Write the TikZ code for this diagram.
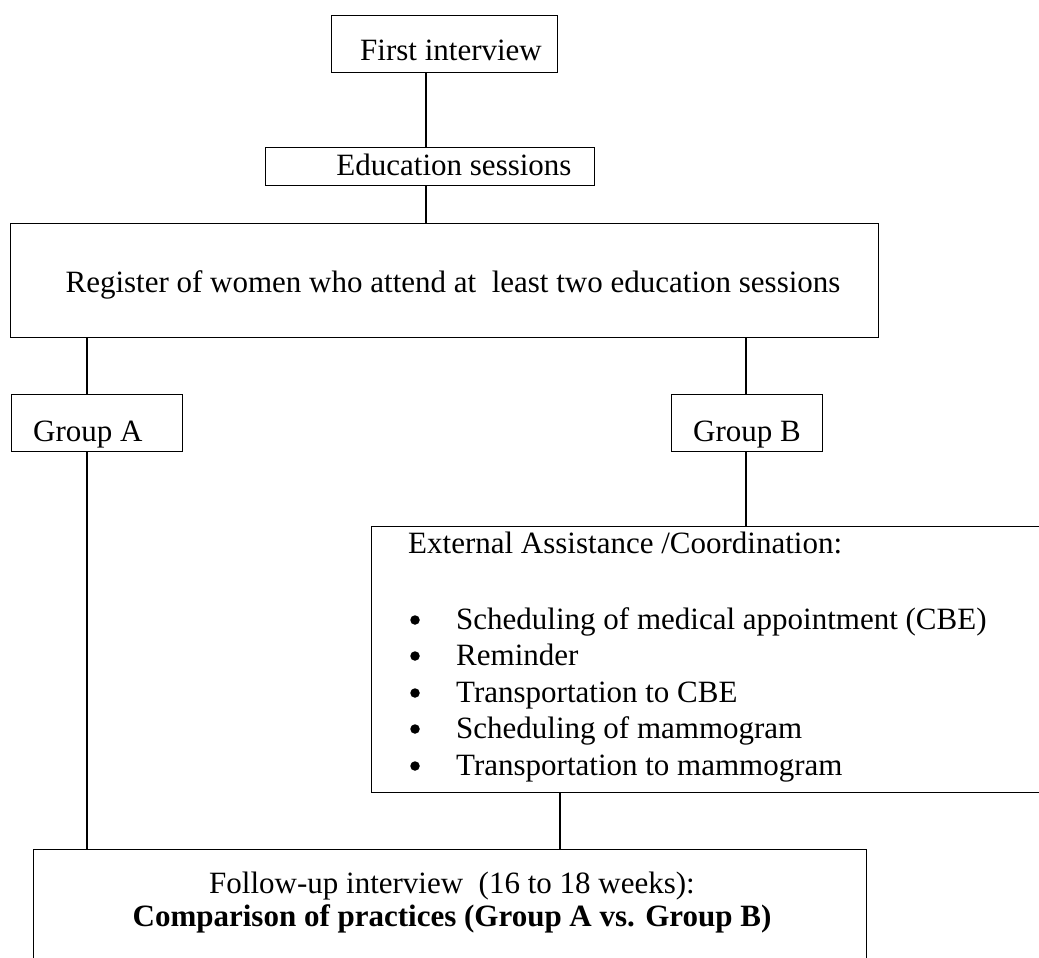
\documentclass[tikz,border=0pt]{standalone}
\usepackage{fontspec}
\setmainfont{Liberation Serif}
\begin{document}
\begin{tikzpicture}[x=1pt,y=-1pt,
  box/.style={draw, line width=1.3pt, inner sep=0pt, rectangle, anchor=north west},
  conn/.style={line width=1.3pt},
  dot/.style={circle, fill, inner sep=0pt, minimum size=9.5pt},
  txtl/.style={inner sep=0pt, anchor=base west, font=\fontsize{31}{37}\selectfont},
  txtc/.style={inner sep=0pt, anchor=base, font=\fontsize{31}{37}\selectfont}]
\useasboundingbox (0,0) rectangle (1039,958);
\clip (0,0) rectangle (1039,958);
% boxes
\node[box, minimum width=226pt, minimum height=57pt] (first) at (331,15) {};
\node[box, minimum width=329pt, minimum height=38pt] (edu) at (265,147) {};
\node[box, minimum width=868pt, minimum height=114pt] (reg) at (10,223) {};
\node[box, minimum width=171pt, minimum height=57pt] (ga) at (11,394) {};
\node[box, minimum width=151pt, minimum height=57pt] (gb) at (671,394) {};
\node[box, minimum width=700pt, minimum height=266pt] (ext) at (371,526) {};
\node[box, minimum width=833pt, minimum height=160pt] (fin) at (33,849) {};
% connector columns
\coordinate (cx1) at (426,0);
\coordinate (cxa) at (87,0);
\coordinate (cxb) at (746,0);
\coordinate (cxe) at (560,0);
\draw[conn] (cx1 |- first.south) -- (cx1 |- edu.north);
\draw[conn] (cx1 |- edu.south) -- (cx1 |- reg.north);
\draw[conn] (cxa |- reg.south) -- (cxa |- ga.north);
\draw[conn] (cxa |- ga.south) -- (cxa |- fin.north);
\draw[conn] (cxb |- reg.south) -- (cxb |- gb.north);
\draw[conn] (cxb |- gb.south) -- (cxb |- ext.north);
\draw[conn] (cxe |- ext.south) -- (cxe |- fin.north);
% texts
\node[txtc] (t1) at (451,61) {First interview};
\node[txtc] (t2) at (454,175) {Education sessions};
\node[txtc] (t3) at (453,292) {Register of women who attend at\ \ least two education sessions};
\node[txtl] (ta) at (33,441) {Group A};
\node[txtl] (tb) at (693,441) {Group B};
\node[txtl] (te) at (408,553) {External Assistance /Coordination:};
\foreach \y/\t [count=\i] in {629/Scheduling of medical appointment (CBE), 665/Reminder, 702/Transportation to CBE, 738/Scheduling of mammogram, 775/Transportation to mammogram}{
  \node[dot] (bul\i) at (415,\y-9) {};
  \node[txtl] (item\i) at (456,\y) {\t};
}
\node[txtc] (f1) at (452,893) {Follow-up interview\ \ (16 to 18 weeks):};
\node[txtc] (f2) at (452,926) {\bfseries Comparison of practices (Group A vs. Group B)};
\end{tikzpicture}
\end{document}
